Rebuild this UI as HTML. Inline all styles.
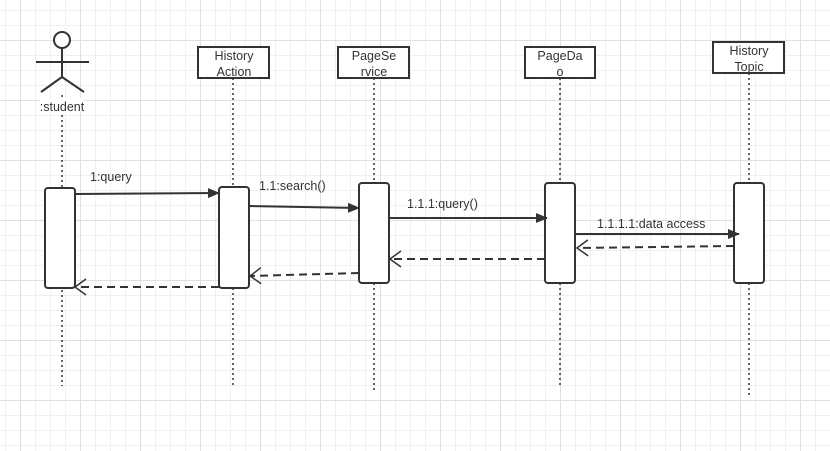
<!DOCTYPE html>
<html><head><style>
html,body{margin:0;padding:0;background:#fff}
body{width:830px;height:451px;overflow:hidden;
background-image:
linear-gradient(to right,#e0e0e0 1px,transparent 1px),
linear-gradient(to bottom,#e0e0e0 1px,transparent 1px),
linear-gradient(to right,#f0f0f0 1px,transparent 1px),
linear-gradient(to bottom,#f0f0f0 1px,transparent 1px);
background-size:60px 60px,60px 60px,15px 15px,15px 15px;
background-position:20px 40px,20px 40px,5px 10px,5px 10px;}
svg{position:absolute;left:0;top:0}
text{font-family:"Liberation Sans",sans-serif;font-size:12.5px;fill:#333}
</style></head><body>
<svg width="830" height="451" viewBox="0 0 830 451">
<defs>
<marker id="f" markerWidth="12" markerHeight="10" refX="11" refY="5" orient="auto" markerUnits="userSpaceOnUse"><path d="M0,0 L12,5 L0,10 Z" fill="#333"/></marker>
<marker id="o" markerWidth="14" markerHeight="18" refX="12" refY="9" orient="auto" markerUnits="userSpaceOnUse"><path d="M1,1 L12,9 L1,17" fill="none" stroke="#333" stroke-width="1.5"/></marker>
</defs>
<g stroke="#333" stroke-width="1.5" stroke-dasharray="2,3" fill="none">
<line x1="62" y1="95" x2="62" y2="386"/>
<line x1="233" y1="78" x2="233" y2="386"/>
<line x1="374" y1="78" x2="374" y2="390"/>
<line x1="560" y1="78" x2="560" y2="386"/>
<line x1="749" y1="73" x2="749" y2="396"/>
</g>
<g stroke="#333" stroke-width="2" fill="none">
<circle cx="62" cy="40" r="8" fill="#fff"/>
<line x1="62" y1="48" x2="62" y2="77"/>
<line x1="36" y1="62" x2="89" y2="62"/>
<line x1="62" y1="77" x2="41" y2="92"/>
<line x1="62" y1="77" x2="84" y2="92"/>
</g>
<rect x="40" y="98" width="44" height="14" fill="#fff"/>
<text x="62" y="111" text-anchor="middle">:student</text>
<g stroke="#333" stroke-width="2" fill="#fff">
<rect x="198" y="47" width="71" height="31"/>
<rect x="338" y="47" width="71" height="31"/>
<rect x="525" y="47" width="70" height="31"/>
<rect x="713" y="42" width="71" height="31"/>
<rect x="45" y="188" width="30" height="100" rx="3"/>
<rect x="219" y="187" width="30" height="101" rx="3"/>
<rect x="359" y="183" width="30" height="100" rx="3"/>
<rect x="545" y="183" width="30" height="100" rx="3"/>
<rect x="734" y="183" width="30" height="100" rx="3"/>
</g>
<text x="234" y="60" text-anchor="middle">History</text>
<text x="234" y="76" text-anchor="middle">Action</text>
<text x="374" y="60" text-anchor="middle">PageSe</text>
<text x="374" y="76" text-anchor="middle">rvice</text>
<text x="560" y="60" text-anchor="middle">PageDa</text>
<text x="560" y="76" text-anchor="middle">o</text>
<text x="749" y="55" text-anchor="middle">History</text>
<text x="749" y="71" text-anchor="middle">Topic</text>
<g stroke="#333" stroke-width="2" fill="none">
<line x1="75" y1="194" x2="219" y2="193" marker-end="url(#f)"/>
<line x1="249" y1="206" x2="359" y2="208" marker-end="url(#f)"/>
<line x1="389" y1="218" x2="547" y2="218" marker-end="url(#f)"/>
<line x1="575" y1="234" x2="739" y2="234" marker-end="url(#f)"/>
</g>
<g stroke="#333" stroke-width="2" fill="none" stroke-dasharray="8,5">
<line x1="734" y1="246" x2="577" y2="248" marker-end="url(#o)"/>
<line x1="545" y1="259" x2="390" y2="259" marker-end="url(#o)"/>
<line x1="359" y1="273" x2="250" y2="276" marker-end="url(#o)"/>
<line x1="219" y1="287" x2="75" y2="287" marker-end="url(#o)"/>
</g>
<text x="90" y="181">1:query</text>
<text x="259" y="190">1.1:search()</text>
<text x="407" y="208">1.1.1:query()</text>
<text x="597" y="228">1.1.1.1:data access</text>
</svg>
</body></html>
